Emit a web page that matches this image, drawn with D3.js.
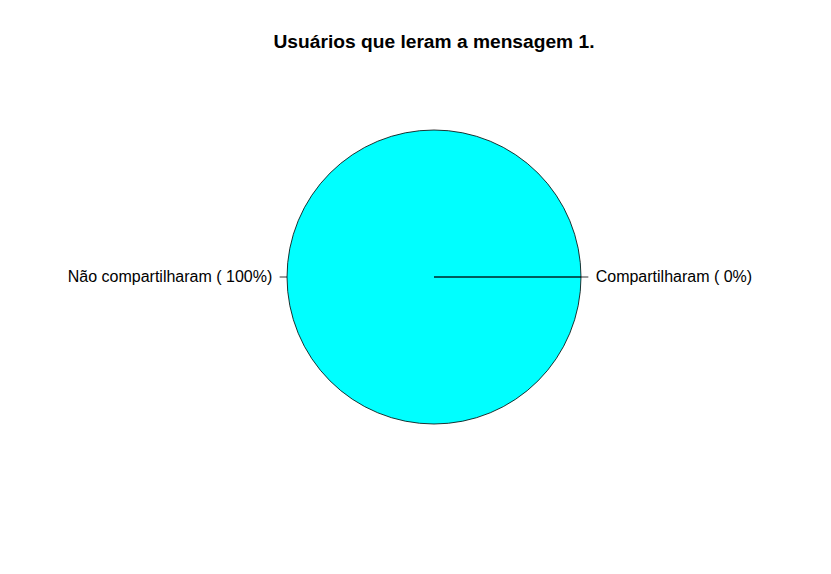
<!DOCTYPE html>
<html>
<head>
<meta charset="utf-8">
<script src="https://cdn.jsdelivr.net/npm/d3@7"></script>
<style>
  html, body { margin: 0; padding: 0; background: #fff; }
  svg { display: block; font-family: "Liberation Sans", Arial, Helvetica, sans-serif; }
</style>
</head>
<body>
<svg id="chart" width="831" height="574"></svg>
<script>
const title = "Usuários que leram a mensagem 1.";
const categories = ["Compartilharam", "Não compartilharam"];
const values = [0, 100];
const colors = ["#FF0000", "#00FFFF"];

const W = 831, H = 574;
const cx = 434, cy = 277, r = 147;

const svg = d3.select("#chart");
svg.append("rect").attr("width", W).attr("height", H).attr("fill", "#fff");

const total = d3.sum(values);
const labels = categories.map((c, i) => `${c} ( ${Math.round(values[i] / total * 100)}%)`);

const color = d3.scaleOrdinal().domain(categories).range(colors);

// R-style pie: counterclockwise starting from 3 o'clock
const pie = d3.pie().sort(null).value(d => d.v)
  .startAngle(0).endAngle(2 * Math.PI);
const arcs = pie(categories.map((c, i) => ({ c, v: values[i], label: labels[i] })));

const g = svg.append("g");
arcs.forEach(a => {
  const t0 = a.startAngle, t1 = a.endAngle;
  const p = d3.path();
  p.moveTo(cx, cy);
  p.lineTo(cx + r * Math.cos(t0), cy - r * Math.sin(t0));
  if (t1 > t0) p.arc(cx, cy, r, -t0, -t1, true);
  p.closePath();
  g.append("path")
    .attr("d", p.toString())
    .attr("fill", color(a.data.c))
    .attr("stroke", "#000")
    .attr("stroke-width", 0.8)
    .attr("stroke-linejoin", "round");
});

arcs.forEach(a => {
  const m = (a.startAngle + a.endAngle) / 2;
  const ux = Math.cos(m), uy = -Math.sin(m);
  g.append("line")
    .attr("x1", cx + r * ux).attr("y1", cy + r * uy)
    .attr("x2", cx + 1.05 * r * ux).attr("y2", cy + 1.05 * r * uy)
    .attr("stroke", "#000").attr("stroke-width", 0.8);
  g.append("text")
    .attr("x", cx + 1.1 * r * ux)
    .attr("y", cy + 1.1 * r * uy + 5)
    .attr("text-anchor", ux >= 0 ? "start" : "end")
    .attr("font-size", 16)
    .attr("fill", "#000")
    .text(a.data.label);
});

svg.append("text")
  .attr("x", cx)
  .attr("y", 48)
  .attr("text-anchor", "middle")
  .attr("font-size", 19.2)
  .attr("font-weight", "bold")
  .attr("fill", "#000")
  .text(title);
</script>
</body>
</html>
